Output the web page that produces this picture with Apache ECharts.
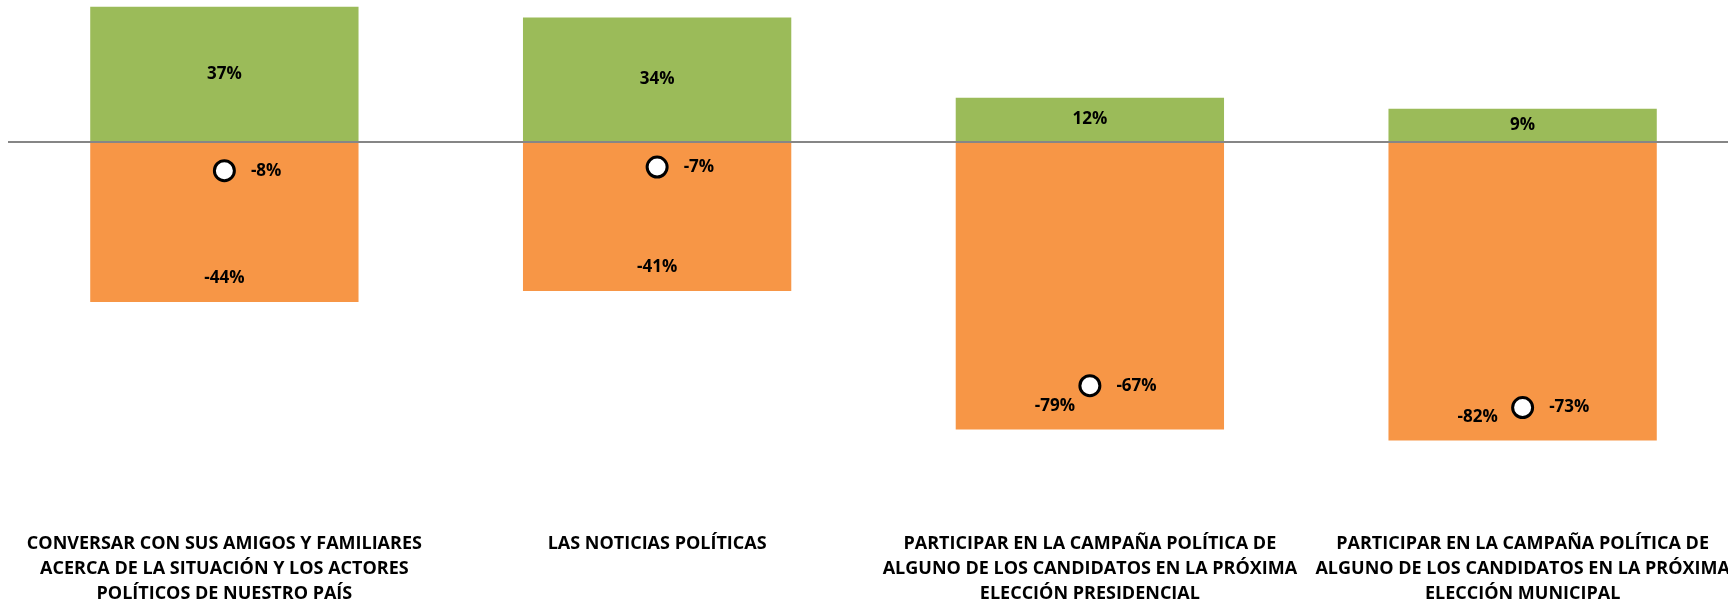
<!DOCTYPE html>
<html>
<head>
<meta charset="utf-8">
<script src="https://cdn.jsdelivr.net/npm/echarts@6/dist/echarts.min.js"></script>
<style>
  html, body { margin: 0; padding: 0; background: #fff; overflow: hidden; }
  #chart { width: 1728px; height: 603px; }
</style>
</head>
<body>
<div id="chart"></div>
<script>
// categorias (saltos de linea como en el original)
const categories = [
  'CONVERSAR CON SUS AMIGOS Y FAMILIARES\nACERCA DE LA SITUACIÓN Y LOS ACTORES\nPOLÍTICOS DE NUESTRO PAÍS',
  'LAS NOTICIAS POLÍTICAS',
  'PARTICIPAR EN LA CAMPAÑA POLÍTICA DE\nALGUNO DE LOS CANDIDATOS EN LA PRÓXIMA\nELECCIÓN PRESIDENCIAL',
  'PARTICIPAR EN LA CAMPAÑA POLÍTICA DE\nALGUNO DE LOS CANDIDATOS EN LA PRÓXIMA\nELECCIÓN MUNICIPAL'
];
const positivos = [37, 34, 12, 9];
const negativos = [-44, -41, -79, -82];
const neto = [-8, -7, -67, -73];

const FONT = 'Open Sans';
const fmt = p => p.value + '%';

const chart = echarts.init(document.getElementById('chart'), null, { width: 1728, height: 603 });

// si el marcador queda cerca del fondo de la barra, la etiqueta se corre a la izquierda
const negData = negativos.map((v, i) => {
  const near = Math.abs(v - neto[i]) < 20;
  return near ? { value: v, label: { offset: [i === 3 ? -45 : -35, 0] } } : v;
});

const labelStyle = {
  fontFamily: FONT,
  fontWeight: 'bold',
  fontSize: 17,
  color: '#000'
};

chart.setOption({
  animation: false,
  grid: { left: 8, width: 1731, top: 3, bottom: 97, outerBoundsMode: 'none', containLabel: false },
  xAxis: {
    type: 'category',
    data: categories,
    axisLine: { show: false, onZero: false },
    axisTick: { show: false },
    axisLabel: {
      interval: 0,
      margin: 25,
      fontFamily: FONT,
      fontWeight: 'bold',
      fontSize: 18,
      lineHeight: 25,
      color: '#000'
    }
  },
  yAxis: {
    type: 'value',
    min: -100,
    max: 38,
    show: false,
    splitLine: { show: false }
  },
  series: [
    {
      type: 'bar',
      data: positivos,
      barWidth: '62%',
      barGap: '-100%',
      itemStyle: { color: '#9BBB59' },
      label: Object.assign({ show: true, position: 'inside', formatter: fmt }, labelStyle),
      markLine: {
        silent: true,
        symbol: 'none',
        label: { show: false },
        lineStyle: { color: '#868686', width: 2, type: 'solid' },
        data: [{ yAxis: 0 }]
      }
    },
    {
      type: 'bar',
      data: negData,
      barWidth: '62%',
      itemStyle: { color: '#F79646' },
      label: Object.assign({ show: true, position: 'insideBottom', distance: 15, formatter: fmt }, labelStyle)
    },
    {
      type: 'scatter',
      data: neto,
      symbol: 'circle',
      symbolSize: 20,
      itemStyle: { color: '#fff', borderColor: '#000', borderWidth: 3, opacity: 1 },
      label: Object.assign({ show: true, position: 'right', distance: 15, formatter: fmt }, labelStyle),
      z: 5
    }
  ]
});
</script>
</body>
</html>
